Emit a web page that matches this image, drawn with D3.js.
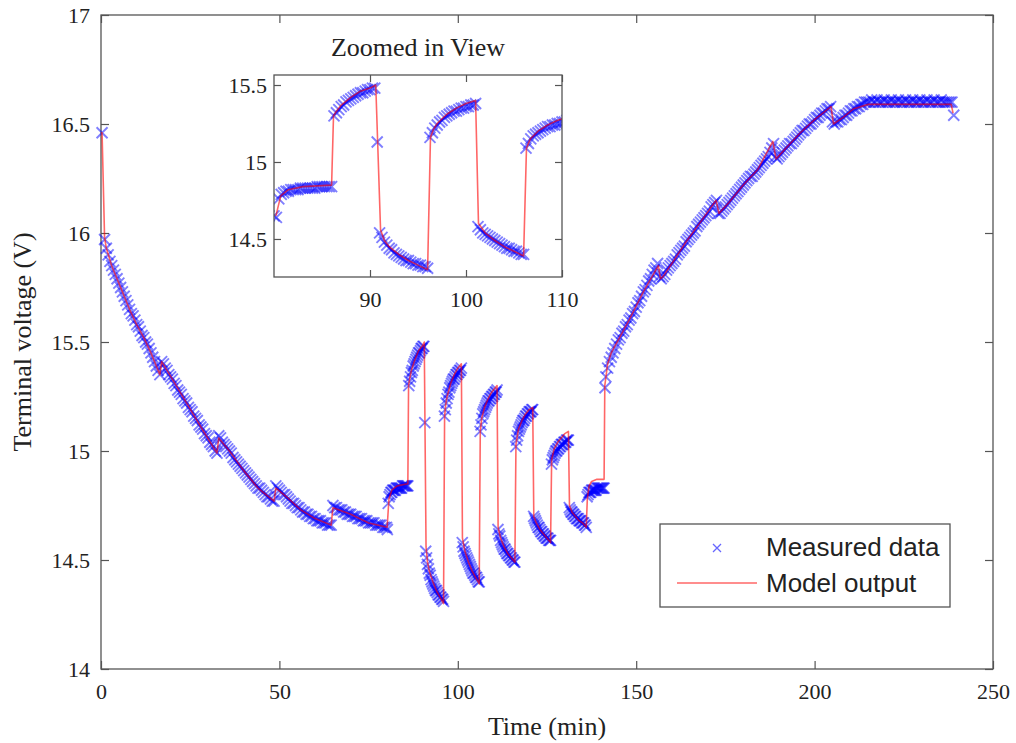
<!DOCTYPE html>
<html><head><meta charset="utf-8">
<script src="https://cdn.jsdelivr.net/npm/d3@7"></script>
<style>
html,body{margin:0;padding:0;background:#fff;}
svg{display:block;}
.tick text{font-family:"Liberation Serif","Times New Roman",serif;fill:#222;}
</style></head>
<body>
<svg id="chart" width="1016" height="743"></svg>
<script>
// ---------- DATA ----------
const xTicks = [0, 50, 100, 150, 200, 250];
const yTicks = [14, 14.5, 15, 15.5, 16, 16.5, 17];
const insetXTicks = [90, 100, 110];
const insetYTicks = [14.5, 15, 15.5];
const seriesNames = ["Measured data", "Model output"];

// measured terminal voltage [time (min), voltage (V)]
const measured = [
[0.3,16.46],
[1,15.97],[1.5,15.93],[2,15.90],[2.5,15.87],[3,15.85],[3.5,15.83],[4,15.81],[4.5,15.79],[5,15.77],[5.5,15.75],[6,15.73],[6.5,15.71],[7,15.69],[7.5,15.67],[8,15.65],[8.5,15.63],[9,15.62],[9.5,15.60],[10,15.58],[10.5,15.57],[11,15.55],[11.5,15.53],[12,15.52],[12.5,15.50],[13,15.49],[13.5,15.47],[14,15.45],[14.5,15.43],[15,15.41],[15.5,15.39],[16,15.37],[16.5,15.35],
[17,15.41],[17.5,15.40],[18,15.38],[18.5,15.37],[19,15.35],[19.5,15.34],[20,15.33],[20.5,15.31],[21,15.30],[21.5,15.28],[22,15.27],[22.5,15.26],[23,15.24],[23.5,15.23],[24,15.22],[24.5,15.20],[25,15.19],[25.5,15.18],[26,15.16],[26.5,15.15],[27,15.14],[27.5,15.12],[28,15.11],[28.5,15.10],[29,15.08],[29.5,15.07],[30,15.06],[30.5,15.04],[31,15.03],[31.5,15.02],[32,15.00],[32.5,14.99],
[33,15.07],[33.5,15.06],[34,15.04],[34.5,15.03],[35,15.02],[35.5,15.01],[36,15.00],[36.5,14.99],[37,14.97],[37.5,14.96],[38,14.95],[38.5,14.94],[39,14.93],[39.5,14.92],[40,14.91],[40.5,14.90],[41,14.89],[41.5,14.88],[42,14.87],[42.5,14.86],[43,14.85],[43.5,14.84],[44,14.83],[44.5,14.83],[45,14.82],[45.5,14.81],[46,14.80],[46.5,14.79],[47,14.79],[47.5,14.78],[48,14.77],[48.5,14.77],
[49,14.84],[49.5,14.83],[50,14.82],[50.5,14.81],[51,14.80],[51.5,14.80],[52,14.79],[52.5,14.78],[53,14.77],[53.5,14.76],[54,14.76],[54.5,14.75],[55,14.74],[55.5,14.74],[56,14.73],[56.5,14.72],[57,14.72],[57.5,14.71],[58,14.71],[58.5,14.70],[59,14.70],[59.5,14.69],[60,14.69],[60.5,14.68],[61,14.68],[61.5,14.68],[62,14.67],[62.5,14.67],[63,14.67],[63.5,14.66],[64,14.66],[64.5,14.66],
[65,14.75],[65.5,14.74],[66,14.74],[66.5,14.73],[67,14.73],[67.5,14.73],[68,14.72],[68.5,14.72],[69,14.71],[69.5,14.71],[70,14.71],[70.5,14.70],[71,14.70],[71.5,14.70],[72,14.69],[72.5,14.69],[73,14.69],[73.5,14.68],[74,14.68],[74.5,14.68],[75,14.67],[75.5,14.67],[76,14.67],[76.5,14.67],[77,14.66],[77.5,14.66],[78,14.66],[78.5,14.66],[79,14.65],[79.5,14.65],[80,14.65],
[80.25,14.64],[80.5,14.76],[80.75,14.79],[81,14.80],[81.25,14.81],[81.5,14.81],[81.75,14.82],[82,14.82],[82.25,14.82],[82.5,14.82],[82.75,14.83],[83,14.83],[83.25,14.83],[83.5,14.83],[83.75,14.83],[84,14.83],[84.25,14.83],[84.5,14.84],[84.75,14.84],[85,14.84],[85.25,14.84],[85.5,14.84],[85.75,14.84],[86,14.84],
[86.25,15.30],[86.5,15.32],[86.75,15.34],[87,15.36],[87.25,15.37],[87.5,15.39],[87.75,15.40],[88,15.41],[88.25,15.42],[88.5,15.43],[88.75,15.44],[89,15.45],[89.25,15.45],[89.5,15.46],[89.75,15.47],[90,15.47],[90.25,15.48],[90.5,15.48],
[90.75,15.13],
[91,14.54],[91.25,14.51],[91.5,14.48],[91.75,14.46],[92,14.44],[92.25,14.43],[92.5,14.41],[92.75,14.40],[93,14.39],[93.25,14.38],[93.5,14.37],[93.75,14.36],[94,14.36],[94.25,14.35],[94.5,14.34],[94.75,14.34],[95,14.33],[95.25,14.33],[95.5,14.32],[95.75,14.32],[96,14.31],
[96.25,15.16],[96.5,15.19],[96.75,15.22],[97,15.24],[97.25,15.26],[97.5,15.27],[97.75,15.29],[98,15.30],[98.25,15.31],[98.5,15.32],[98.75,15.33],[99,15.33],[99.25,15.34],[99.5,15.35],[99.75,15.35],[100,15.36],[100.25,15.36],[100.5,15.37],[100.75,15.37],[101,15.38],
[101.25,14.58],[101.5,14.56],[101.75,14.54],[102,14.53],[102.25,14.52],[102.5,14.51],[102.75,14.50],[103,14.49],[103.25,14.48],[103.5,14.47],[103.75,14.46],[104,14.45],[104.25,14.44],[104.5,14.44],[104.75,14.43],[105,14.42],[105.25,14.42],[105.5,14.41],[105.75,14.40],[106,14.40],
[106.25,15.09],[106.5,15.12],[106.75,15.15],[107,15.17],[107.25,15.18],[107.5,15.19],[107.75,15.20],[108,15.21],[108.25,15.22],[108.5,15.23],[108.75,15.23],[109,15.24],[109.25,15.24],[109.5,15.25],[109.75,15.25],[110,15.26],[110.25,15.26],[110.5,15.27],[110.75,15.27],[111,15.28],
[111.25,14.64],[111.5,14.62],[111.75,14.61],[112,14.59],[112.25,14.58],[112.5,14.57],[112.75,14.56],[113,14.55],[113.25,14.55],[113.5,14.54],[113.75,14.53],[114,14.53],[114.25,14.52],[114.5,14.52],[114.75,14.51],[115,14.51],[115.25,14.50],[115.5,14.50],[115.75,14.49],[116,14.49],
[116.25,15.02],[116.5,15.05],[116.75,15.07],[117,15.09],[117.25,15.10],[117.5,15.11],[117.75,15.12],[118,15.13],[118.25,15.14],[118.5,15.14],[118.75,15.15],[119,15.16],[119.25,15.16],[119.5,15.17],[119.75,15.17],[120,15.18],[120.25,15.18],[120.5,15.18],[120.75,15.19],[121,15.19],
[121.25,14.70],[121.5,14.69],[121.75,14.68],[122,14.67],[122.25,14.66],[122.5,14.65],[122.75,14.65],[123,14.64],[123.25,14.63],[123.5,14.63],[123.75,14.62],[124,14.62],[124.25,14.61],[124.5,14.61],[124.75,14.60],[125,14.60],[125.25,14.60],[125.5,14.59],[125.75,14.59],[126,14.59],
[126.25,14.94],[126.5,14.96],[126.75,14.97],[127,14.98],[127.25,14.99],[127.5,15.00],[127.75,15.00],[128,15.01],[128.25,15.01],[128.5,15.02],[128.75,15.02],[129,15.03],[129.25,15.03],[129.5,15.03],[129.75,15.04],[130,15.04],[130.25,15.04],[130.5,15.05],[130.75,15.05],[131,15.05],
[131.25,14.74],[131.5,14.73],[131.75,14.72],[132,14.72],[132.25,14.71],[132.5,14.71],[132.75,14.70],[133,14.70],[133.25,14.69],[133.5,14.69],[133.75,14.69],[134,14.68],[134.25,14.68],[134.5,14.68],[134.75,14.67],[135,14.67],[135.25,14.67],[135.5,14.66],[135.75,14.66],[136,14.65],
[136.25,14.79],[136.5,14.80],[136.75,14.81],[137,14.81],[137.25,14.81],[137.5,14.82],[137.75,14.82],[138,14.82],[138.25,14.82],[138.5,14.82],[138.75,14.82],[139,14.83],[139.25,14.83],[139.5,14.83],[139.75,14.83],[140,14.83],[140.25,14.83],[140.5,14.83],[140.75,14.83],[141,14.83],
[141.25,15.29],[141.5,15.34],[142,15.38],[142.5,15.41],[143,15.43],[143.5,15.45],[144,15.47],[144.5,15.49],[145,15.51],[145.5,15.52],[146,15.54],[146.5,15.55],[147,15.57],[147.5,15.58],[148,15.60],[148.5,15.61],[149,15.63],[149.5,15.64],[150,15.66],[150.5,15.68],[151,15.69],[151.5,15.71],[152,15.73],[152.5,15.74],[153,15.76],[153.5,15.78],[154,15.79],[154.5,15.81],[155,15.83],[155.5,15.84],[156,15.86],
[156.5,15.80],[157,15.79],[157.5,15.80],[158,15.81],[158.5,15.83],[159,15.84],[159.5,15.85],[160,15.86],[160.5,15.87],[161,15.88],[161.5,15.90],[162,15.91],[162.5,15.92],[163,15.93],[163.5,15.94],[164,15.96],[164.5,15.97],[165,15.98],[165.5,15.99],[166,16.00],[166.5,16.01],[167,16.03],[167.5,16.04],[168,16.05],[168.5,16.06],[169,16.07],[169.5,16.08],[170,16.09],[170.5,16.10],[171,16.12],[171.5,16.13],[172,16.14],[172.5,16.15],
[173,16.09],[173.5,16.09],[174,16.10],[174.5,16.11],[175,16.12],[175.5,16.13],[176,16.14],[176.5,16.15],[177,16.16],[177.5,16.17],[178,16.18],[178.5,16.19],[179,16.20],[179.5,16.21],[180,16.22],[180.5,16.23],[181,16.24],[181.5,16.25],[182,16.26],[182.5,16.26],[183,16.27],[183.5,16.28],[184,16.29],[184.5,16.30],[185,16.31],[185.5,16.32],[186,16.33],[186.5,16.34],[187,16.35],[187.5,16.37],[188,16.39],[188.5,16.41],
[189,16.35],[189.5,16.34],[190,16.35],[190.5,16.36],[191,16.37],[191.5,16.38],[192,16.39],[192.5,16.40],[193,16.41],[193.5,16.41],[194,16.42],[194.5,16.43],[195,16.44],[195.5,16.45],[196,16.46],[196.5,16.47],[197,16.47],[197.5,16.48],[198,16.49],[198.5,16.50],[199,16.50],[199.5,16.51],[200,16.52],[200.5,16.53],[201,16.53],[201.5,16.54],[202,16.55],[202.5,16.55],[203,16.56],[203.5,16.57],[204,16.57],[204.5,16.58],
[205,16.51],[205.5,16.50],[206,16.51],[206.5,16.51],[207,16.52],[207.5,16.52],[208,16.53],[208.5,16.54],[209,16.54],[209.5,16.55],[210,16.56],[210.5,16.56],[211,16.57],[211.5,16.57],[212,16.58],[212.5,16.58],[213,16.59],[213.5,16.59],[214,16.60],[214.5,16.60],
[215,16.60],[215.5,16.60],[216,16.61],[216.5,16.60],[217,16.60],[217.5,16.61],[218,16.60],[218.5,16.60],[219,16.60],[219.5,16.61],[220,16.60],[220.5,16.60],[221,16.60],[221.5,16.61],[222,16.60],[222.5,16.60],[223,16.60],[223.5,16.61],[224,16.60],[224.5,16.60],[225,16.60],[225.5,16.61],[226,16.60],[226.5,16.60],[227,16.60],[227.5,16.61],[228,16.60],[228.5,16.60],[229,16.60],[229.5,16.61],[230,16.60],[230.5,16.60],[231,16.60],[231.5,16.61],[232,16.60],[232.5,16.60],[233,16.60],[233.5,16.61],[234,16.60],[234.5,16.60],[235,16.60],[235.5,16.61],[236,16.60],[236.5,16.60],[237,16.60],[237.5,16.60],[238,16.60],[238.5,16.60],
[239,16.54]
];

// model output [time (min), voltage (V)]
const model = [
[0,16.46],[0.3,16.46],[1,15.98],[1.5,15.93],[3,15.85],[5,15.77],[8,15.65],[10,15.58],[12,15.52],[14,15.45],[16.5,15.35],
[17,15.41],[20,15.33],[24,15.22],[28,15.11],[32.5,14.99],
[33,15.06],[36,15.00],[40,14.91],[44,14.83],[48.5,14.77],
[49,14.83],[52,14.79],[56,14.73],[60,14.69],[64.5,14.66],
[65,14.74],[70,14.71],[75,14.67],[80.2,14.65],
[80.7,14.78],[81.5,14.82],[83,14.84],[86,14.85],
[86.2,15.30],[86.5,15.33],[87,15.37],[88,15.42],[89,15.46],[90,15.48],[90.6,15.50],
[91.1,14.56],[91.5,14.49],[92,14.45],[93,14.40],[94,14.36],[95,14.33],[96,14.30],
[96.3,15.16],[96.6,15.21],[97,15.25],[98,15.31],[99,15.35],[100,15.38],[101,15.40],
[101.3,14.60],[102,14.54],[103,14.49],[104,14.45],[105,14.42],[106,14.39],
[106.3,15.09],[106.7,15.15],[107.5,15.20],[108.5,15.24],[109.5,15.27],[111,15.30],
[111.3,14.65],[112,14.60],[113,14.56],[114,14.53],[115,14.51],[116,14.49],
[116.3,15.03],[117,15.10],[118,15.14],[119,15.17],[120,15.19],[121,15.20],
[121.3,14.70],[122,14.67],[123,14.64],[124,14.62],[125,14.60],[126,14.58],
[126.3,14.96],[127,15.01],[128,15.04],[129,15.06],[130,15.08],[131,15.09],
[131.3,14.75],[132,14.72],[133,14.70],[134,14.68],[135,14.67],[136,14.65],
[136.3,14.78],[136.8,14.84],[137.5,14.86],[139,14.87],[141,14.87],
[141.2,15.30],[142,15.40],[143,15.45],[145,15.51],[148,15.60],[152,15.73],[156.2,15.85],
[156.8,15.79],[157.5,15.80],[160,15.86],[164,15.96],[168,16.05],[172.4,16.15],
[173.2,16.09],[176,16.14],[180,16.22],[184,16.29],[188.3,16.42],
[189.2,16.34],[192,16.39],[196,16.46],[200,16.52],[204.6,16.58],
[205.3,16.50],[208,16.53],[211,16.57],[215,16.59],[238.3,16.59],[238.8,16.55]
];

// ---------- DRAWING ----------
const svg = d3.select("#chart");
const axisColor = "#555";
const blue = "#0000ff", red = "#ff0000";
const serif = '"Liberation Serif","Times New Roman",serif';
const sans = '"Liberation Sans",Arial,Helvetica,sans-serif';

const M = {left:101, top:15, right:993, bottom:669};
const x = d3.scaleLinear().domain([0,250]).range([M.left, M.right]);
const y = d3.scaleLinear().domain([14,17]).range([M.bottom, M.top]);

const crossPath = s => `M${-s},${-s}L${s},${s}M${-s},${s}L${s},${-s}`;

function styleAxis(g, fs){
  g.select(".domain").remove();
  g.selectAll(".tick line").attr("stroke", axisColor).attr("stroke-width",1.2);
  g.selectAll(".tick text").style("font-size", fs+"px").style("font-family", serif).attr("fill","#222");
}

// main axes
svg.append("g").attr("transform",`translate(0,${M.bottom})`)
  .call(d3.axisBottom(x).tickValues(xTicks).tickSize(-8).tickPadding(14).tickFormat(d3.format("d")))
  .call(g=>styleAxis(g,22));
svg.append("g").attr("transform",`translate(0,${M.top})`)
  .call(d3.axisTop(x).tickValues(xTicks).tickSize(-8).tickFormat(""))
  .call(g=>styleAxis(g,22));
svg.append("g").attr("transform",`translate(${M.left},0)`)
  .call(d3.axisLeft(y).tickValues(yTicks).tickSize(-8).tickPadding(11).tickFormat(d=>String(d)))
  .call(g=>styleAxis(g,22));
svg.append("g").attr("transform",`translate(${M.right},0)`)
  .call(d3.axisRight(y).tickValues(yTicks).tickSize(-8).tickFormat(""))
  .call(g=>styleAxis(g,22));
svg.append("rect").attr("x",M.left).attr("y",M.top).attr("width",M.right-M.left).attr("height",M.bottom-M.top)
  .attr("fill","none").attr("stroke",axisColor).attr("stroke-width",1.3);

// axis labels
svg.append("text").attr("x",(M.left+M.right)/2).attr("y",735).attr("text-anchor","middle")
  .style("font-family",serif).style("font-size","26px").attr("fill","#222").text("Time (min)");
svg.append("text").attr("transform",`translate(31,${(M.top+M.bottom)/2}) rotate(-90)`).attr("text-anchor","middle")
  .style("font-family",serif).style("font-size","26px").attr("fill","#222").text("Terminal voltage (V)");

// main data
const markerStyle = sel => sel.attr("d",crossPath(5.5)).attr("fill","none").attr("stroke",blue)
  .attr("stroke-width",1.9).attr("stroke-opacity",0.5);
const gMain = svg.append("g");
gMain.selectAll("path.m").data(measured).join("path").attr("class","m")
  .attr("transform",d=>`translate(${x(d[0])},${y(d[1])})`).call(markerStyle);
const lineMain = d3.line().x(d=>x(d[0])).y(d=>y(d[1]));
gMain.append("path").datum(model).attr("d",lineMain).attr("fill","none")
  .attr("stroke",red).attr("stroke-width",1.6).attr("stroke-opacity",0.6).attr("stroke-linejoin","round");

// ---------- INSET ----------
const I = {left:274, top:75, right:562, bottom:277};
const xi = d3.scaleLinear().domain([80,110]).range([I.left, I.right]);
const yi = d3.scaleLinear().domain([14.253,15.565]).range([I.bottom, I.top]);
svg.append("rect").attr("x",I.left).attr("y",I.top).attr("width",I.right-I.left).attr("height",I.bottom-I.top).attr("fill","#fff");
svg.append("defs").append("clipPath").attr("id","insetClip").append("rect")
  .attr("x",I.left).attr("y",I.top).attr("width",I.right-I.left).attr("height",I.bottom-I.top);

const gIn = svg.append("g").attr("clip-path","url(#insetClip)");
const insetData = measured.filter(d=>d[0]>=79 && d[0]<=111);
gIn.selectAll("path.m").data(insetData).join("path").attr("class","m")
  .attr("transform",d=>`translate(${xi(d[0])},${yi(d[1])})`).call(markerStyle);
const lineIn = d3.line().x(d=>xi(d[0])).y(d=>yi(d[1]));
gIn.append("path").datum(model.filter(d=>d[0]>=79 && d[0]<=112)).attr("d",lineIn).attr("fill","none")
  .attr("stroke",red).attr("stroke-width",1.6).attr("stroke-opacity",0.6).attr("stroke-linejoin","round");

svg.append("g").attr("transform",`translate(0,${I.bottom})`)
  .call(d3.axisBottom(xi).tickValues(insetXTicks).tickSize(-7).tickPadding(14).tickFormat(d3.format("d")))
  .call(g=>styleAxis(g,22));
svg.append("g").attr("transform",`translate(0,${I.top})`)
  .call(d3.axisTop(xi).tickValues(insetXTicks).tickSize(-7).tickFormat(""))
  .call(g=>styleAxis(g,22));
svg.append("g").attr("transform",`translate(${I.left},0)`)
  .call(d3.axisLeft(yi).tickValues(insetYTicks).tickSize(-7).tickPadding(7).tickFormat(d=>String(d)))
  .call(g=>styleAxis(g,22));
svg.append("g").attr("transform",`translate(${I.right},0)`)
  .call(d3.axisRight(yi).tickValues(insetYTicks).tickSize(-7).tickFormat(""))
  .call(g=>styleAxis(g,22));
svg.append("rect").attr("x",I.left).attr("y",I.top).attr("width",I.right-I.left).attr("height",I.bottom-I.top)
  .attr("fill","none").attr("stroke",axisColor).attr("stroke-width",1.3);
svg.append("text").attr("x",(I.left+I.right)/2).attr("y",56).attr("text-anchor","middle")
  .style("font-family",serif).style("font-size","26px").attr("fill","#222").text("Zoomed in View");

// ---------- LEGEND ----------
const L = {x:660, y:524, w:290, h:83};
svg.append("rect").attr("x",L.x).attr("y",L.y).attr("width",L.w).attr("height",L.h)
  .attr("fill","#fff").attr("stroke",axisColor).attr("stroke-width",1.3);
svg.append("path").attr("transform","translate(717,548)").attr("d",crossPath(4))
  .attr("fill","none").attr("stroke",blue).attr("stroke-width",1.3).attr("stroke-opacity",0.6);
svg.append("line").attr("x1",677).attr("x2",757).attr("y1",583).attr("y2",583)
  .attr("stroke",red).attr("stroke-width",1.6).attr("stroke-opacity",0.6);
svg.append("text").attr("x",766).attr("y",556).style("font-family",sans).style("font-size","26px").attr("fill","#222").text(seriesNames[0]);
svg.append("text").attr("x",766).attr("y",592).style("font-family",sans).style("font-size","26px").attr("fill","#222").text(seriesNames[1]);
</script>
</body></html>
